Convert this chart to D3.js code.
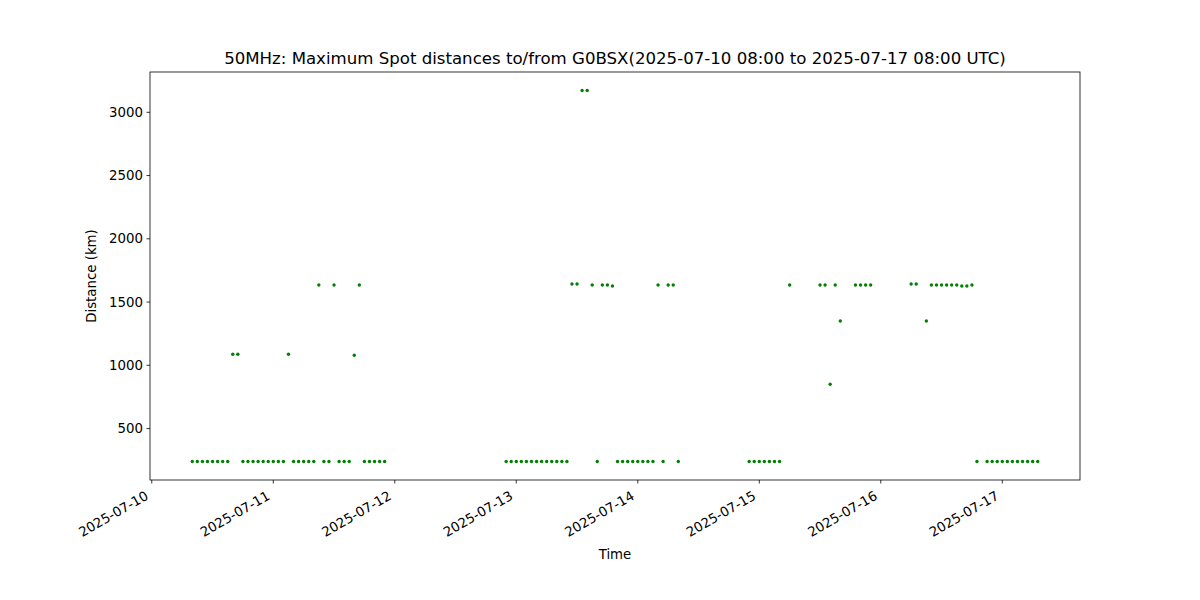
<!DOCTYPE html>
<html>
<head>
<meta charset="utf-8">
<script src="https://cdn.jsdelivr.net/npm/d3@7"></script>
<style>
  body { margin: 0; background: #fff; }
  svg { display: block; }
  text { font-family: "DejaVu Sans", sans-serif; fill: #000; }
</style>
</head>
<body>
<svg id="chart" width="1200" height="600"></svg>
<script>
// ---- data ----
const titleText = "50MHz: Maximum Spot distances to/from G0BSX(2025-07-10 08:00 to 2025-07-17 08:00 UTC)";
const startTime = "2025-07-10T08:00:00Z";
// hour offsets from startTime
const hours = [
  0,1,2,3,4,5,6,7, 8,9, 10,11,12,13,14,15,16,17,18, 19, 20,21,22,23,24, 25, 26,27, 28, 29,30,31, 32, 33, 34,35,36,37,38,
  62,63,64,65,66,67,68,69,70,71,72,73,74, 75,76, 77,78, 79, 80, 81,82, 83, 84,85,86,87,88,89,90,91, 92, 93, 94,95, 96,
  110,111,112,113,114,115,116, 118, 124,125, 126, 127, 128, 131,132,133,134,
  142,143, 145, 146,147,148,149,150,151, 152,153, 154, 155, 157,158,159,160,161,162,163,164,165,166,167
];
// maximum distance (km) for each hour
const distances = [
  240,240,240,240,240,240,240,240, 1088,1088, 240,240,240,240,240,240,240,240,240, 1088, 240,240,240,240,240, 1635, 240,240, 1635, 240,240,240, 1080, 1635, 240,240,240,240,240,
  240,240,240,240,240,240,240,240,240,240,240,240,240, 1643,1643, 3172,3172, 1635, 240, 1635,1635, 1627, 240,240,240,240,240,240,240,240, 1635, 240, 1635,1635, 240,
  240,240,240,240,240,240,240, 1635, 1635,1635, 850, 1635, 1350, 1635,1635,1635,1635,
  1643,1643, 1350, 1635,1635,1635,1635,1635,1635, 1627,1627, 1635, 240, 240,240,240,240,240,240,240,240,240,240,240
];
const xTickDates = ["2025-07-10","2025-07-11","2025-07-12","2025-07-13","2025-07-14","2025-07-15","2025-07-16","2025-07-17"];
const yTickValues = [500, 1000, 1500, 2000, 2500, 3000];
const xLabel = "Time";
const yLabel = "Distance (km)";

// ---- layout ----
const mL = 150, mR = 1080, mT = 72, mB = 480;
const svg = d3.select("#chart");

const t0 = new Date(startTime).getTime();
const points = hours.map((h, i) => ({ t: new Date(t0 + h * 3600000), v: distances[i] }));

const tExt = d3.extent(points, d => d.t.getTime());
const tPad = (tExt[1] - tExt[0]) * 0.05;
const x = d3.scaleUtc().domain([new Date(tExt[0] - tPad), new Date(tExt[1] + tPad)]).range([mL, mR]);

const vExt = d3.extent(points, d => d.v);
const vPad = (vExt[1] - vExt[0]) * 0.05;
const y = d3.scaleLinear().domain([vExt[0] - vPad, vExt[1] + vPad]).range([mB, mT]);

// points
svg.append("g").selectAll("circle").data(points).join("circle")
  .attr("cx", d => x(d.t))
  .attr("cy", d => y(d.v))
  .attr("r", 1.7)
  .attr("fill", "green");

// frame
svg.append("rect").attr("x", mL).attr("y", mT).attr("width", mR - mL).attr("height", mB - mT)
  .attr("fill", "none").attr("stroke", "#000").attr("stroke-width", 0.8);

// x axis
const xTicks = xTickDates.map(s => new Date(s + "T00:00:00Z"));
const fmt = d3.utcFormat("%Y-%m-%d");
const xg = svg.append("g");
xTicks.forEach(dt => {
  const px = x(dt);
  xg.append("line").attr("x1", px).attr("x2", px).attr("y1", mB).attr("y2", mB + 3.5)
    .attr("stroke", "#000").attr("stroke-width", 0.8);
  xg.append("text")
    .attr("transform", `translate(${px - 2.5},${mB + 7 + 11.5}) rotate(-30)`)
    .attr("text-anchor", "end")
    .attr("font-size", "13.33px")
    .text(fmt(dt));
});

// y axis
const yg = svg.append("g");
yTickValues.forEach(v => {
  const py = y(v);
  yg.append("line").attr("x1", mL - 3.5).attr("x2", mL).attr("y1", py).attr("y2", py)
    .attr("stroke", "#000").attr("stroke-width", 0.8);
  yg.append("text")
    .attr("x", mL - 7).attr("y", py).attr("dy", "0.35em")
    .attr("text-anchor", "end").attr("font-size", "13.33px")
    .text(v);
});

// labels
svg.append("text").attr("x", (mL + mR) / 2).attr("y", 64)
  .attr("text-anchor", "middle").attr("font-size", "16.6px").text(titleText);
svg.append("text").attr("x", (mL + mR) / 2).attr("y", 559)
  .attr("text-anchor", "middle").attr("font-size", "13.33px").text(xLabel);
svg.append("text").attr("transform", `translate(96,${(mT + mB) / 2}) rotate(-90)`)
  .attr("text-anchor", "middle").attr("font-size", "13.33px").text(yLabel);
</script>
</body>
</html>
